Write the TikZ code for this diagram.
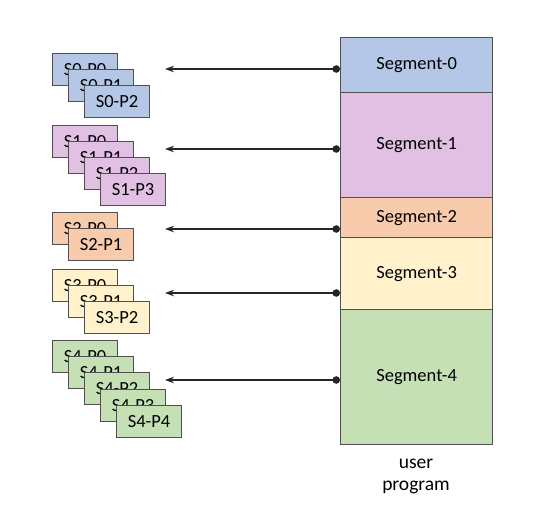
\documentclass[tikz,border=0pt]{standalone}
\usepackage{fontspec}
\setmainfont{Carlito}
\usetikzlibrary{arrows.meta}
\definecolor{cblue}{HTML}{B4C7E7}
\definecolor{cpink}{HTML}{E1C0E3}
\definecolor{corange}{HTML}{F8CBAD}
\definecolor{cyellow}{HTML}{FFF2CC}
\definecolor{cgreen}{HTML}{C5E0B4}
\definecolor{cborder}{HTML}{505050}
\tikzset{
  seg/.style={draw=cborder, line width=1.2pt, minimum width=152pt, inner sep=0pt, anchor=north west, font=\fontsize{18.5}{22}\selectfont},
  page/.style={draw=cborder, line width=1.2pt, minimum width=65pt, minimum height=32pt, inner sep=0pt, anchor=north west, font=\fontsize{18.5}{22}\selectfont},
  arr/.style={draw=black!85, line width=1.1pt, {Circle[length=7.5pt]}-{Stealth[length=9pt,width=6.5pt]}},
}
\begin{document}
\begin{tikzpicture}[x=1pt,y=-1pt]
\useasboundingbox (0,0) rectangle (549,516);
% segments
\node[seg, fill=cblue, minimum height=55pt] (seg0) at (340,37) {Segment-0};
\node[seg, fill=cpink, minimum height=105pt] (seg1) at (340,92) {Segment-1};
\node[seg, fill=corange, minimum height=40pt] (seg2) at (340,197) {Segment-2};
\node[seg, fill=cyellow, minimum height=72pt] (seg3) at (340,237) {Segment-3};
\node[seg, fill=cgreen, minimum height=135pt] (seg4) at (340,309) {Segment-4};
\node[font=\fontsize{19.5}{22}\selectfont, align=center] (lbl) at (416,476) {user\\program};
% pages S0
\node[page, fill=cblue] (s0p0) at (52,53) {S0-P0};
\node[page, fill=cblue] (s0p1) at (68,69) {S0-P1};
\node[page, fill=cblue] (s0p2) at (84,85) {S0-P2};
% pages S1
\node[page, fill=cpink] (s1p0) at (52,125) {S1-P0};
\node[page, fill=cpink] (s1p1) at (68,141) {S1-P1};
\node[page, fill=cpink] (s1p2) at (84,157) {S1-P2};
\node[page, fill=cpink] (s1p3) at (100,173) {S1-P3};
% pages S2
\node[page, fill=corange] (s2p0) at (52,212) {S2-P0};
\node[page, fill=corange] (s2p1) at (68,228) {S2-P1};
% pages S3
\node[page, fill=cyellow] (s3p0) at (52,269) {S3-P0};
\node[page, fill=cyellow] (s3p1) at (68,285) {S3-P1};
\node[page, fill=cyellow] (s3p2) at (84,301) {S3-P2};
% pages S4
\node[page, fill=cgreen] (s4p0) at (52,340) {S4-P0};
\node[page, fill=cgreen] (s4p1) at (68,356) {S4-P1};
\node[page, fill=cgreen] (s4p2) at (84,372) {S4-P2};
\node[page, fill=cgreen] (s4p3) at (100,389) {S4-P3};
\node[page, fill=cgreen] (s4p4) at (116,405) {S4-P4};
% arrow ends
\coordinate (t0) at (165,69);
\coordinate (t1) at (165,149);
\coordinate (t2) at (165,229);
\coordinate (t3) at (165,293);
\coordinate (t4) at (165,380);
\draw[arr] (seg0.west |- t0) -- (t0);
\draw[arr] (seg1.west |- t1) -- (t1);
\draw[arr] (seg2.west |- t2) -- (t2);
\draw[arr] (seg3.west |- t3) -- (t3);
\draw[arr] (seg4.west |- t4) -- (t4);
\end{tikzpicture}
\end{document}
